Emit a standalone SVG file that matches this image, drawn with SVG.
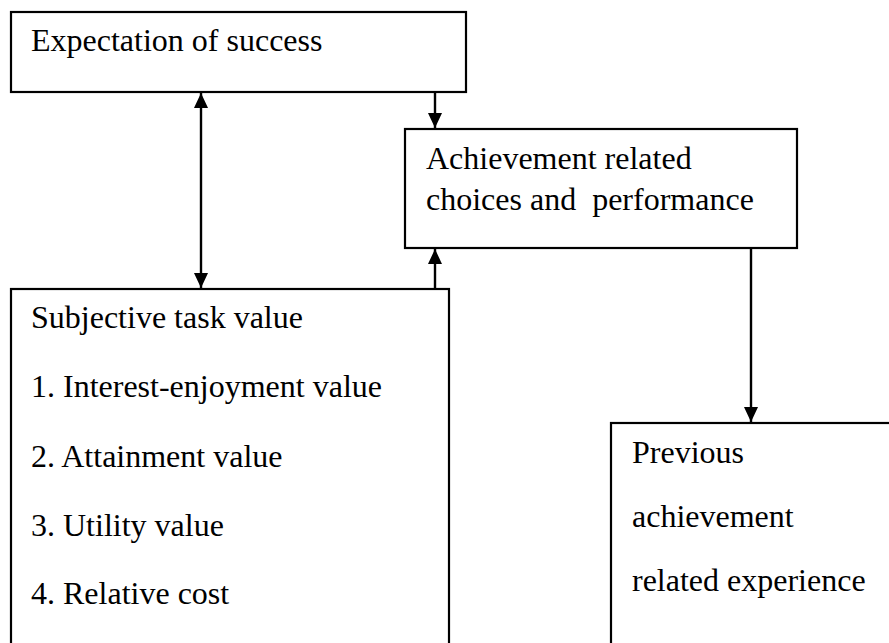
<svg xmlns="http://www.w3.org/2000/svg" width="889" height="643" viewBox="0 0 889 643">
<defs>
<style>
.box{fill:#fff;stroke:#000;stroke-width:2.2}
.t{font-family:"Liberation Serif","Times New Roman",serif;font-size:32px;fill:#000}
.c{stroke:#000;stroke-width:2.4;fill:none}
</style>
<marker id="ah" markerWidth="15" markerHeight="14" refX="15" refY="7" orient="auto-start-reverse" markerUnits="userSpaceOnUse" viewBox="0 0 15 14">
<path d="M0,0 L15,7 L0,14 z" fill="#000"/>
</marker>
</defs>
<rect width="889" height="643" fill="#fff"/>
<g id="connectors">
<line class="c" x1="201" y1="93" x2="201" y2="288" marker-start="url(#ah)" marker-end="url(#ah)"/>
<line class="c" x1="435" y1="92" x2="435" y2="128" marker-end="url(#ah)"/>
<line class="c" x1="435" y1="289" x2="435" y2="249" marker-end="url(#ah)"/>
<line class="c" x1="751" y1="249" x2="751" y2="422" marker-end="url(#ah)"/>
</g>
<g id="expectation">
<rect class="box" x="11" y="12" width="455" height="80"/>
<text class="t" x="31" y="51">Expectation of success</text>
</g>
<g id="achievement">
<rect class="box" x="405" y="129" width="392" height="119"/>
<text class="t" x="426" y="169">Achievement related</text>
<text class="t" x="426" y="210" xml:space="preserve">choices and  performance</text>
</g>
<g id="subjective">
<rect class="box" x="11" y="289" width="438" height="380"/>
<text class="t" x="31" y="328">Subjective task value</text>
<text class="t" x="31" y="397">1. Interest-enjoyment value</text>
<text class="t" x="31" y="467">2. Attainment value</text>
<text class="t" x="31" y="536">3. Utility value</text>
<text class="t" x="31" y="604">4. Relative cost</text>
</g>
<g id="previous">
<rect class="box" x="611" y="423" width="300" height="260"/>
<text class="t" x="632" y="463">Previous</text>
<text class="t" x="632" y="527">achievement</text>
<text class="t" x="632" y="591">related experience</text>
</g>
</svg>
